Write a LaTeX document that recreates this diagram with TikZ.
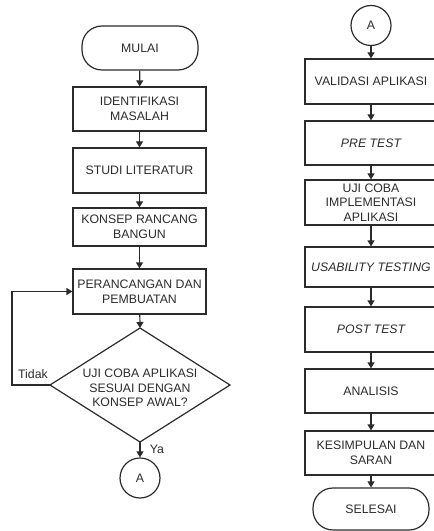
\documentclass[tikz,border=0pt]{standalone}
\usepackage{fontspec}
\setmainfont{Liberation Sans}
\usetikzlibrary{arrows.meta}
\definecolor{ink}{HTML}{2B2B2B}
\tikzset{
  base/.style={draw=ink, line width=1.2bp, text=ink, align=center, inner sep=1bp,
    font=\fontsize{12.3bp}{14.7bp}\selectfont},
  procbox/.style={base, rectangle, minimum width=133bp},
  rbox/.style={base, rectangle, minimum width=132bp},
  term/.style={base, rectangle, rounded corners=20bp, minimum width=116bp},
  conn/.style={base, circle, minimum size=40bp, inner sep=0bp},
  arr/.style={draw=ink, line width=1.2bp, -{Triangle[length=6bp,width=7bp]}},
  lbl/.style={text=ink, font=\fontsize{12.3bp}{14.7bp}\selectfont, inner sep=0bp}
}
\begin{document}
\begin{tikzpicture}[x=1bp,y=-1bp]
\useasboundingbox (0,0) rectangle (434,531);
\clip (0,0) rectangle (434,531);
% left column
\node[term, minimum height=44bp] (mulai) at (140,48) {MULAI};
\node[procbox, minimum height=44bp] (ident) at (139.5,109) {IDENTIFIKASI\\MASALAH};
\node[procbox, minimum height=45bp] (studi) at (139.5,170.5) {STUDI LITERATUR};
\node[procbox, minimum height=38bp] (konsep) at (139.5,227) {KONSEP RANCANG\\BANGUN};
\node[procbox, minimum height=45bp] (peran) at (139.5,291.5) {PERANCANGAN DAN\\PEMBUATAN};
\coordinate (dtop) at (140,328);
\coordinate (dbot) at (140,442);
\coordinate (dleft) at (50,385);
\coordinate (dright) at (230,385);
\draw[draw=ink, line width=1.2bp] (dtop) -- (dright) -- (dbot) -- (dleft) -- cycle;
\node[lbl, align=center] (dec) at (140,388) {UJI COBA APLIKASI\\SESUAI DENGAN\\KONSEP AWAL?};
\node[conn] (a1) at (140,478) {A};
\coordinate (fb1) at (12,385);
\coordinate (fb2) at (12,291.5);
\draw[arr] (mulai) -- (ident);
\draw[arr] (ident) -- (studi);
\draw[arr] (studi) -- (konsep);
\draw[arr] (konsep) -- (peran);
\draw[arr] (peran) -- (dtop);
\draw[arr] (dbot) -- (a1);
\draw[arr] (dleft) -- (fb1) -- (fb2) -- (peran.west);
\node[lbl] (tidak) at (33,374) {Tidak};
\node[lbl] (ya) at (157,449) {Ya};
% right column
\node[conn] (a2) at (371,25.5) {A};
\node[rbox, minimum height=45bp] (valid) at (371,81.5) {VALIDASI APLIKASI};
\node[rbox, minimum height=44bp] (pre) at (371,143) {\itshape PRE TEST};
\node[rbox, minimum height=45bp] (uji) at (371,202.5) {UJI COBA\\IMPLEMENTASI\\APLIKASI};
\node[rbox, minimum height=40bp] (usab) at (371,267) {\itshape USABILITY TESTING};
\node[rbox, minimum height=45bp] (post) at (371,329.5) {\itshape POST TEST};
\node[rbox, minimum height=44bp] (anal) at (371,391) {ANALISIS};
\node[rbox, minimum height=44bp] (kesim) at (371,453) {KESIMPULAN DAN\\SARAN};
\node[term, minimum height=42bp] (selesai) at (371,509) {SELESAI};
\draw[arr] (a2) -- (valid);
\draw[arr] (valid) -- (pre);
\draw[arr] (pre) -- (uji);
\draw[arr] (uji) -- (usab);
\draw[arr] (usab) -- (post);
\draw[arr] (post) -- (anal);
\draw[arr] (anal) -- (kesim);
\draw[arr] (kesim) -- (selesai);
\end{tikzpicture}
\end{document}
